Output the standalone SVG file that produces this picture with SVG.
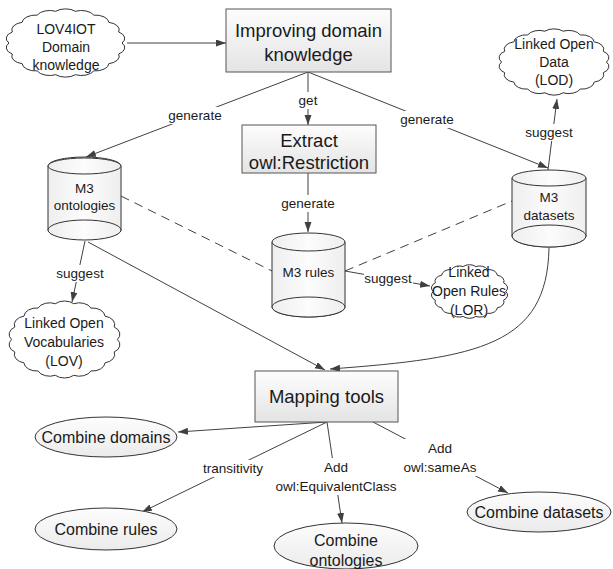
<svg xmlns="http://www.w3.org/2000/svg" xmlns:xlink="http://www.w3.org/1999/xlink" width="613" height="569" viewBox="0 0 613 569">
<style>
text{font-family:"Liberation Sans",Arial,sans-serif;fill:#1a1a1a;text-anchor:middle;dominant-baseline:central}
.big{font-size:18.5px}
.mid{font-size:16px}
.sm{font-size:13.5px}
.cl{font-size:14px}
.box{fill:url(#gbox);stroke:#555;stroke-width:1}
.cyl{fill:url(#gcyl);stroke:#333;stroke-width:1}
.ell{fill:url(#gell);stroke:#333;stroke-width:1}
.cloud{fill:#fff;stroke:#333;stroke-width:1;vector-effect:non-scaling-stroke}
.ln{fill:none;stroke:#404040;stroke-width:1}
.arr{marker-end:url(#ah)}
.dash{stroke-dasharray:9,6}
.lbg{fill:#fff}
</style>
<defs>
<linearGradient id="gbox" x1="0" y1="0" x2="0" y2="1"><stop offset="0" stop-color="#fdfdfd"/><stop offset="1" stop-color="#e4e4e4"/></linearGradient>
<linearGradient id="gcyl" x1="0" y1="0" x2="1" y2="0"><stop offset="0" stop-color="#eeeeee"/><stop offset="0.5" stop-color="#fcfcfc"/><stop offset="1" stop-color="#eeeeee"/></linearGradient>
<linearGradient id="gell" x1="0" y1="0" x2="0" y2="1"><stop offset="0" stop-color="#fdfdfd"/><stop offset="1" stop-color="#ebebeb"/></linearGradient>
<marker id="ah" markerUnits="userSpaceOnUse" markerWidth="11" markerHeight="8" refX="10" refY="3.5" orient="auto"><path d="M0,0 L10,3.5 L0,7 z" fill="#404040"/></marker>
<path id="cloudp" class="cloud" d="M96,50 A11,11 0 0 1 93.23,65.73 A11,11 0 0 1 85.24,79.57 A11,11 0 0 1 73,89.84 A11,11 0 0 1 57.99,95.3 A11,11 0 0 1 42.01,95.3 A11,11 0 0 1 27,89.84 A11,11 0 0 1 14.76,79.57 A11,11 0 0 1 6.77,65.73 A11,11 0 0 1 4,50 A11,11 0 0 1 6.77,34.27 A11,11 0 0 1 14.76,20.43 A11,11 0 0 1 27,10.16 A11,11 0 0 1 42.01,4.7 A11,11 0 0 1 57.99,4.7 A11,11 0 0 1 73,10.16 A11,11 0 0 1 85.24,20.43 A11,11 0 0 1 93.23,34.27 A11,11 0 0 1 96,50 Z"/>
</defs>

<g id="connectors">
<line class="ln arr" x1="127" y1="43" x2="226" y2="43"/>
<line class="ln arr" x1="308" y1="72" x2="86" y2="157"/>
<line class="ln arr" x1="308" y1="72" x2="308" y2="125"/>
<line class="ln arr" x1="308" y1="72" x2="548" y2="168"/>
<line class="ln arr" x1="308" y1="173" x2="308" y2="232"/>
<line class="ln arr" x1="548" y1="170" x2="557" y2="99"/>
<line class="ln dash" x1="121" y1="196" x2="272" y2="271"/>
<line class="ln dash" x1="345" y1="271" x2="512" y2="201"/>
<line class="ln arr" x1="345" y1="271" x2="430" y2="286"/>
<line class="ln arr" x1="85" y1="241" x2="72" y2="302"/>
<line class="ln arr" x1="88" y1="242" x2="325" y2="370"/>
<path class="ln arr" d="M549,248 C547,345 480,358 330,369"/>
<line class="ln arr" x1="327" y1="422" x2="178" y2="432"/>
<line class="ln arr" x1="327" y1="422" x2="142" y2="512"/>
<line class="ln arr" x1="327" y1="422" x2="342" y2="523"/>
<line class="ln arr" x1="373" y1="422" x2="508" y2="493"/>

<rect class="lbg" x="166" y="107" width="58" height="17"/>
<text class="sm" x="195" y="115">generate</text>
<rect class="lbg" x="297" y="92" width="22" height="17"/>
<text class="sm" x="308" y="100">get</text>
<rect class="lbg" x="398" y="111" width="58" height="17"/>
<text class="sm" x="427" y="119">generate</text>
<rect class="lbg" x="279" y="195" width="58" height="17"/>
<text class="sm" x="308" y="203">generate</text>
<rect class="lbg" x="524" y="124" width="50" height="17"/>
<text class="sm" x="549" y="132">suggest</text>
<rect class="lbg" x="364" y="270" width="49" height="17"/>
<text class="sm" x="388" y="278">suggest</text>
<rect class="lbg" x="55" y="265" width="50" height="17"/>
<text class="sm" x="80" y="273">suggest</text>
<rect class="lbg" x="196" y="460" width="74" height="17"/>
<text class="sm" x="233" y="468">transitivity</text>
<rect class="lbg" x="274" y="458" width="124" height="37"/>
<text class="sm" x="336" y="467">Add</text>
<text class="sm" x="336" y="486">owl:EquivalentClass</text>
<rect class="lbg" x="403" y="439" width="74" height="37"/>
<text class="sm" x="440" y="448">Add</text>
<text class="sm" x="440" y="467">owl:sameAs</text>
</g>

<g id="lov4iot">
<use xlink:href="#cloudp" transform="translate(4,8) scale(1.23,0.70)"/>
<text class="cl" x="66" y="29">LOV4IOT</text>
<text class="cl" x="66" y="47">Domain</text>
<text class="cl" x="66" y="65">knowledge</text>
</g>

<g id="improving">
<rect class="box" x="226" y="9" width="165" height="63"/>
<text class="big" x="308.5" y="30">Improving domain</text>
<text class="big" x="308.5" y="54">knowledge</text>
</g>

<g id="extract">
<rect class="box" x="242" y="125" width="134" height="48"/>
<text class="big" x="309" y="140">Extract</text>
<text class="big" x="309" y="162">owl:Restriction</text>
</g>

<g id="lod">
<use xlink:href="#cloudp" transform="translate(497,28) scale(1.14,0.68)"/>
<text class="cl" x="554" y="44">Linked Open</text>
<text class="cl" x="554" y="62">Data</text>
<text class="cl" x="554" y="80">(LOD)</text>
</g>

<g id="m3ontologies">
<path class="cyl" d="M48,166 L48,230 A36.5,9 0 0 0 121,230 L121,166 A36.5,9 0 0 0 48,166 Z"/>
<ellipse class="cyl" cx="84.5" cy="166" rx="36.5" ry="8"/>
<ellipse class="cyl" cx="84.5" cy="230" rx="36.5" ry="10"/>
<text class="sm" x="84.5" y="188">M3</text>
<text class="sm" x="84.5" y="205">ontologies</text>
</g>

<g id="m3rules">
<path class="cyl" d="M272,242 L272,307 A36.5,10 0 0 0 345,307 L345,242 Z"/>
<ellipse class="cyl" cx="308.5" cy="242" rx="36.5" ry="9"/>
<ellipse class="cyl" cx="308.5" cy="307" rx="36.5" ry="10"/>
<text class="sm" x="308.5" y="272">M3 rules</text>
</g>

<g id="m3datasets">
<path class="cyl" d="M512,178 L512,236 A37,11 0 0 0 586,236 L586,178 Z"/>
<ellipse class="cyl" cx="549" cy="178" rx="37" ry="8"/>
<ellipse class="cyl" cx="549" cy="236" rx="37" ry="11"/>
<text class="sm" x="549" y="197">M3</text>
<text class="sm" x="549" y="215">datasets</text>
</g>

<g id="lor">
<use xlink:href="#cloudp" transform="translate(430,264) scale(0.79,0.55)"/>
<text class="cl" x="469" y="272">Linked</text>
<text class="cl" x="469" y="291">Open Rules</text>
<text class="cl" x="469" y="310">(LOR)</text>
</g>

<g id="lov">
<use xlink:href="#cloudp" transform="translate(7,300) scale(1.15,0.79)"/>
<text class="cl" x="64" y="323">Linked Open</text>
<text class="cl" x="64" y="342">Vocabularies</text>
<text class="cl" x="64" y="361">(LOV)</text>
</g>

<g id="mapping">
<rect class="box" x="255" y="371" width="143" height="51"/>
<text class="big" x="326.5" y="396">Mapping tools</text>
</g>

<g id="combinedomains">
<ellipse class="ell" cx="106" cy="437" rx="71" ry="20"/>
<text class="mid" x="106" y="437">Combine domains</text>
</g>

<g id="combinerules">
<ellipse class="ell" cx="106" cy="529" rx="71" ry="21"/>
<text class="mid" x="106" y="529">Combine rules</text>
</g>

<g id="combineontologies">
<ellipse class="ell" cx="346" cy="546" rx="72" ry="23"/>
<text class="mid" x="346" y="540">Combine</text>
<text class="mid" x="346" y="560">ontologies</text>
</g>

<g id="combinedatasets">
<ellipse class="ell" cx="539" cy="512" rx="72" ry="20"/>
<text class="mid" x="539" y="512">Combine datasets</text>
</g>
</svg>
